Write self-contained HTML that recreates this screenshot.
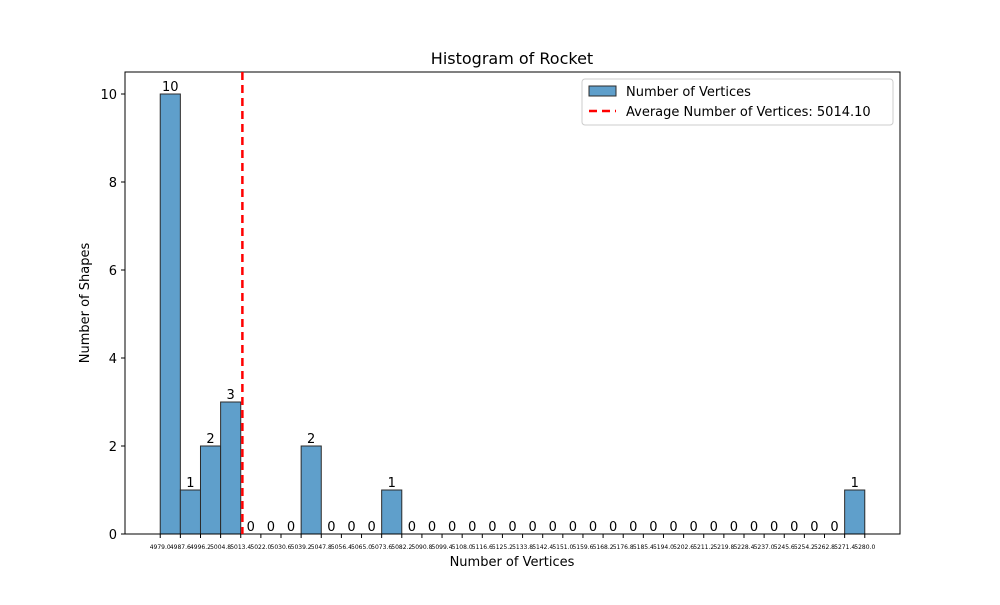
<!DOCTYPE html>
<html><head><meta charset="utf-8"><style>
body{margin:0;background:#fff}
svg text{font-family:"DejaVu Sans","Liberation Sans",sans-serif}
</style></head><body>
<svg id="chart" width="1000" height="600">
<rect width="1000" height="600" fill="#fff"/>
<text x="512" y="64" font-size="16" text-anchor="middle">Histogram of Rocket</text>
<g id="bars"></g>
<g id="xticks"></g>
<g id="yticks"></g>
<rect x="125" y="72" width="775" height="462" fill="none" stroke="#000" stroke-width="1"/>
<text x="512" y="566" font-size="13" text-anchor="middle">Number of Vertices</text>
<text x="89" y="303" font-size="13" text-anchor="middle" transform="rotate(-90 89 303)">Number of Shapes</text>
<g>
<rect x="582" y="79" width="311" height="46" rx="3" fill="#fff" stroke="#ccc"/>
<rect x="589" y="86" width="27" height="10" fill="#5f9fcb" stroke="#2b2b2b"/>
<text x="626" y="96" font-size="13">Number of Vertices</text>
<line x1="589" y1="111" x2="616" y2="111" stroke="red" stroke-width="2.5" stroke-dasharray="8,5"/>
<text x="626" y="116" font-size="13">Average Number of Vertices: 5014.10</text>
</g>
</svg>
<script>
const counts=[10,1,2,3,0,0,0,2,0,0,0,1,0,0,0,0,0,0,0,0,0,0,0,0,0,0,0,0,0,0,0,0,0,0,1];
const binStart=4979.0;
const binWidth=8.6;
const meanValue=5014.10;
const yTicks=[0,2,4,6,8,10];
const NS="http://www.w3.org/2000/svg";
const xMin=4963.95,xMax=5295.05,L=125,R=900;
const X=v=>L+(v-xMin)/(xMax-xMin)*(R-L);
const Y=v=>534-v/10.5*462;
function mk(t,a,p){const e=document.createElementNS(NS,t);for(const k in a)e.setAttribute(k,a[k]);p.appendChild(e);return e;}
const bars=document.getElementById('bars'),xt=document.getElementById('xticks'),yt=document.getElementById('yticks');
counts.forEach((c,i)=>{
 const x0=X(binStart+i*binWidth),x1=X(binStart+(i+1)*binWidth);
 if(c>0){const r=mk('rect',{x:x0,y:Y(c),width:x1-x0,height:Y(0)-Y(c),fill:'#5f9fcb',stroke:'#2b2b2b','stroke-width':1},bars);
 
 }
 const t=mk('text',{x:(x0+x1)/2,y:Y(c)-3,'font-size':13,'text-anchor':'middle'},bars);t.textContent=c;
 
 
});
for(let i=0;i<=counts.length;i++){
 const v=binStart+i*binWidth,x=X(v);
 mk('line',{x1:x,x2:x,y1:534,y2:538,stroke:'#000'},xt);
 const t=mk('text',{x:x,y:549,'font-size':6,'text-anchor':'middle'},xt);t.textContent=v.toFixed(1);
 
 
}
yTicks.forEach(v=>{
 const y=Y(v);
 mk('line',{x1:121,x2:125,y1:y,y2:y,stroke:'#000'},yt);
 const t=mk('text',{x:117,y:y+5,'font-size':13,'text-anchor':'end'},yt);t.textContent=v;
 
 
});
const ml=mk('line',{x1:X(meanValue),x2:X(meanValue),y1:72,y2:534,stroke:'red','stroke-width':2.5,'stroke-dasharray':'8,5'},document.getElementById('chart'));


</script>
</body></html>
